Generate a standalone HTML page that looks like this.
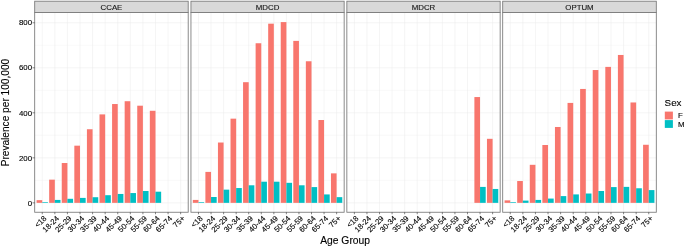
<!DOCTYPE html>
<html lang="en"><head><meta charset="utf-8"><title>Prevalence per 100,000 by Age Group and Sex</title>
<style>html,body{margin:0;padding:0;background:#fff}svg{display:block;filter:blur(0.35px)}text{stroke:#000;stroke-width:0.12px}</style></head>
<body>
<svg width="685" height="247" viewBox="0 0 685 247" font-family="Liberation Sans, Arial, Helvetica, sans-serif">
<rect width="685" height="247" fill="#fff"/>
<g><line x1="34.70" x2="188.20" y1="180.34" y2="180.34" stroke="#EBEBEB" stroke-width="0.3"/><line x1="34.70" x2="188.20" y1="135.32" y2="135.32" stroke="#EBEBEB" stroke-width="0.3"/><line x1="34.70" x2="188.20" y1="90.30" y2="90.30" stroke="#EBEBEB" stroke-width="0.3"/><line x1="34.70" x2="188.20" y1="45.28" y2="45.28" stroke="#EBEBEB" stroke-width="0.3"/><line x1="34.70" x2="188.20" y1="202.85" y2="202.85" stroke="#EBEBEB" stroke-width="0.5"/><line x1="34.70" x2="188.20" y1="157.83" y2="157.83" stroke="#EBEBEB" stroke-width="0.5"/><line x1="34.70" x2="188.20" y1="112.81" y2="112.81" stroke="#EBEBEB" stroke-width="0.5"/><line x1="34.70" x2="188.20" y1="67.79" y2="67.79" stroke="#EBEBEB" stroke-width="0.5"/><line x1="34.70" x2="188.20" y1="22.77" y2="22.77" stroke="#EBEBEB" stroke-width="0.5"/><line x1="42.25" x2="42.25" y1="12.55" y2="212.25" stroke="#EBEBEB" stroke-width="0.5"/><line x1="54.83" x2="54.83" y1="12.55" y2="212.25" stroke="#EBEBEB" stroke-width="0.5"/><line x1="67.41" x2="67.41" y1="12.55" y2="212.25" stroke="#EBEBEB" stroke-width="0.5"/><line x1="80.00" x2="80.00" y1="12.55" y2="212.25" stroke="#EBEBEB" stroke-width="0.5"/><line x1="92.58" x2="92.58" y1="12.55" y2="212.25" stroke="#EBEBEB" stroke-width="0.5"/><line x1="105.16" x2="105.16" y1="12.55" y2="212.25" stroke="#EBEBEB" stroke-width="0.5"/><line x1="117.74" x2="117.74" y1="12.55" y2="212.25" stroke="#EBEBEB" stroke-width="0.5"/><line x1="130.32" x2="130.32" y1="12.55" y2="212.25" stroke="#EBEBEB" stroke-width="0.5"/><line x1="142.90" x2="142.90" y1="12.55" y2="212.25" stroke="#EBEBEB" stroke-width="0.5"/><line x1="155.49" x2="155.49" y1="12.55" y2="212.25" stroke="#EBEBEB" stroke-width="0.5"/><line x1="168.07" x2="168.07" y1="12.55" y2="212.25" stroke="#EBEBEB" stroke-width="0.5"/><line x1="180.65" x2="180.65" y1="12.55" y2="212.25" stroke="#EBEBEB" stroke-width="0.5"/></g>
<g><rect x="36.59" y="200.15" width="5.66" height="2.70" fill="#F8766D"/><rect x="42.25" y="202.17" width="5.66" height="0.68" fill="#00BFC4"/><rect x="49.17" y="179.66" width="5.66" height="23.19" fill="#F8766D"/><rect x="54.83" y="199.92" width="5.66" height="2.93" fill="#00BFC4"/><rect x="61.75" y="163.01" width="5.66" height="39.84" fill="#F8766D"/><rect x="67.41" y="198.80" width="5.66" height="4.05" fill="#00BFC4"/><rect x="74.33" y="145.67" width="5.66" height="57.18" fill="#F8766D"/><rect x="80.00" y="197.90" width="5.66" height="4.95" fill="#00BFC4"/><rect x="86.92" y="129.24" width="5.66" height="73.61" fill="#F8766D"/><rect x="92.58" y="197.22" width="5.66" height="5.63" fill="#00BFC4"/><rect x="99.50" y="114.39" width="5.66" height="88.46" fill="#F8766D"/><rect x="105.16" y="195.20" width="5.66" height="7.65" fill="#00BFC4"/><rect x="112.08" y="104.03" width="5.66" height="98.82" fill="#F8766D"/><rect x="117.74" y="193.96" width="5.66" height="8.89" fill="#00BFC4"/><rect x="124.66" y="101.22" width="5.66" height="101.63" fill="#F8766D"/><rect x="130.32" y="193.06" width="5.66" height="9.79" fill="#00BFC4"/><rect x="137.24" y="105.70" width="5.66" height="97.15" fill="#F8766D"/><rect x="142.90" y="191.01" width="5.66" height="11.84" fill="#00BFC4"/><rect x="149.83" y="110.78" width="5.66" height="92.07" fill="#F8766D"/><rect x="155.49" y="191.69" width="5.66" height="11.16" fill="#00BFC4"/></g>
<rect x="34.70" y="12.55" width="153.50" height="199.70" fill="none" stroke="#777" stroke-width="0.85"/>
<rect x="34.70" y="1.2" width="153.50" height="11.35" fill="#D9D9D9" stroke="#777" stroke-width="0.85"/>
<text x="111.45" y="9.9" font-size="7.85" text-anchor="middle" fill="#1a1a1a">CCAE</text>
<g><line x1="42.25" x2="42.25" y1="212.25" y2="214.25" stroke="#333333" stroke-width="0.6"/><text transform="translate(46.95,218.85) rotate(-45)" font-size="7.7" text-anchor="end" fill="#000">&lt;18</text><line x1="54.83" x2="54.83" y1="212.25" y2="214.25" stroke="#333333" stroke-width="0.6"/><text transform="translate(59.53,218.85) rotate(-45)" font-size="7.7" text-anchor="end" fill="#000">18-24</text><line x1="67.41" x2="67.41" y1="212.25" y2="214.25" stroke="#333333" stroke-width="0.6"/><text transform="translate(72.11,218.85) rotate(-45)" font-size="7.7" text-anchor="end" fill="#000">25-29</text><line x1="80.00" x2="80.00" y1="212.25" y2="214.25" stroke="#333333" stroke-width="0.6"/><text transform="translate(84.70,218.85) rotate(-45)" font-size="7.7" text-anchor="end" fill="#000">30-34</text><line x1="92.58" x2="92.58" y1="212.25" y2="214.25" stroke="#333333" stroke-width="0.6"/><text transform="translate(97.28,218.85) rotate(-45)" font-size="7.7" text-anchor="end" fill="#000">35-39</text><line x1="105.16" x2="105.16" y1="212.25" y2="214.25" stroke="#333333" stroke-width="0.6"/><text transform="translate(109.86,218.85) rotate(-45)" font-size="7.7" text-anchor="end" fill="#000">40-44</text><line x1="117.74" x2="117.74" y1="212.25" y2="214.25" stroke="#333333" stroke-width="0.6"/><text transform="translate(122.44,218.85) rotate(-45)" font-size="7.7" text-anchor="end" fill="#000">45-49</text><line x1="130.32" x2="130.32" y1="212.25" y2="214.25" stroke="#333333" stroke-width="0.6"/><text transform="translate(135.02,218.85) rotate(-45)" font-size="7.7" text-anchor="end" fill="#000">50-54</text><line x1="142.90" x2="142.90" y1="212.25" y2="214.25" stroke="#333333" stroke-width="0.6"/><text transform="translate(147.60,218.85) rotate(-45)" font-size="7.7" text-anchor="end" fill="#000">55-59</text><line x1="155.49" x2="155.49" y1="212.25" y2="214.25" stroke="#333333" stroke-width="0.6"/><text transform="translate(160.19,218.85) rotate(-45)" font-size="7.7" text-anchor="end" fill="#000">60-64</text><line x1="168.07" x2="168.07" y1="212.25" y2="214.25" stroke="#333333" stroke-width="0.6"/><text transform="translate(172.77,218.85) rotate(-45)" font-size="7.7" text-anchor="end" fill="#000">65-74</text><line x1="180.65" x2="180.65" y1="212.25" y2="214.25" stroke="#333333" stroke-width="0.6"/><text transform="translate(185.35,218.85) rotate(-45)" font-size="7.7" text-anchor="end" fill="#000">75+</text></g>
<g><line x1="190.95" x2="344.15" y1="180.34" y2="180.34" stroke="#EBEBEB" stroke-width="0.3"/><line x1="190.95" x2="344.15" y1="135.32" y2="135.32" stroke="#EBEBEB" stroke-width="0.3"/><line x1="190.95" x2="344.15" y1="90.30" y2="90.30" stroke="#EBEBEB" stroke-width="0.3"/><line x1="190.95" x2="344.15" y1="45.28" y2="45.28" stroke="#EBEBEB" stroke-width="0.3"/><line x1="190.95" x2="344.15" y1="202.85" y2="202.85" stroke="#EBEBEB" stroke-width="0.5"/><line x1="190.95" x2="344.15" y1="157.83" y2="157.83" stroke="#EBEBEB" stroke-width="0.5"/><line x1="190.95" x2="344.15" y1="112.81" y2="112.81" stroke="#EBEBEB" stroke-width="0.5"/><line x1="190.95" x2="344.15" y1="67.79" y2="67.79" stroke="#EBEBEB" stroke-width="0.5"/><line x1="190.95" x2="344.15" y1="22.77" y2="22.77" stroke="#EBEBEB" stroke-width="0.5"/><line x1="198.48" x2="198.48" y1="12.55" y2="212.25" stroke="#EBEBEB" stroke-width="0.5"/><line x1="211.04" x2="211.04" y1="12.55" y2="212.25" stroke="#EBEBEB" stroke-width="0.5"/><line x1="223.60" x2="223.60" y1="12.55" y2="212.25" stroke="#EBEBEB" stroke-width="0.5"/><line x1="236.16" x2="236.16" y1="12.55" y2="212.25" stroke="#EBEBEB" stroke-width="0.5"/><line x1="248.71" x2="248.71" y1="12.55" y2="212.25" stroke="#EBEBEB" stroke-width="0.5"/><line x1="261.27" x2="261.27" y1="12.55" y2="212.25" stroke="#EBEBEB" stroke-width="0.5"/><line x1="273.83" x2="273.83" y1="12.55" y2="212.25" stroke="#EBEBEB" stroke-width="0.5"/><line x1="286.39" x2="286.39" y1="12.55" y2="212.25" stroke="#EBEBEB" stroke-width="0.5"/><line x1="298.94" x2="298.94" y1="12.55" y2="212.25" stroke="#EBEBEB" stroke-width="0.5"/><line x1="311.50" x2="311.50" y1="12.55" y2="212.25" stroke="#EBEBEB" stroke-width="0.5"/><line x1="324.06" x2="324.06" y1="12.55" y2="212.25" stroke="#EBEBEB" stroke-width="0.5"/><line x1="336.62" x2="336.62" y1="12.55" y2="212.25" stroke="#EBEBEB" stroke-width="0.5"/></g>
<g><rect x="192.83" y="199.92" width="5.65" height="2.93" fill="#F8766D"/><rect x="198.48" y="202.17" width="5.65" height="0.68" fill="#00BFC4"/><rect x="205.39" y="171.90" width="5.65" height="30.95" fill="#F8766D"/><rect x="211.04" y="197.00" width="5.65" height="5.85" fill="#00BFC4"/><rect x="217.95" y="142.52" width="5.65" height="60.33" fill="#F8766D"/><rect x="223.60" y="189.64" width="5.65" height="13.21" fill="#00BFC4"/><rect x="230.51" y="118.66" width="5.65" height="84.19" fill="#F8766D"/><rect x="236.16" y="188.04" width="5.65" height="14.81" fill="#00BFC4"/><rect x="243.06" y="82.20" width="5.65" height="120.65" fill="#F8766D"/><rect x="248.71" y="185.29" width="5.65" height="17.56" fill="#00BFC4"/><rect x="255.62" y="43.25" width="5.65" height="159.60" fill="#F8766D"/><rect x="261.27" y="181.69" width="5.65" height="21.16" fill="#00BFC4"/><rect x="268.18" y="23.67" width="5.65" height="179.18" fill="#F8766D"/><rect x="273.83" y="181.69" width="5.65" height="21.16" fill="#00BFC4"/><rect x="280.74" y="22.09" width="5.65" height="180.76" fill="#F8766D"/><rect x="286.39" y="182.82" width="5.65" height="20.03" fill="#00BFC4"/><rect x="293.29" y="40.89" width="5.65" height="161.96" fill="#F8766D"/><rect x="298.94" y="185.29" width="5.65" height="17.56" fill="#00BFC4"/><rect x="305.85" y="61.26" width="5.65" height="141.59" fill="#F8766D"/><rect x="311.50" y="187.09" width="5.65" height="15.76" fill="#00BFC4"/><rect x="318.41" y="120.01" width="5.65" height="82.84" fill="#F8766D"/><rect x="324.06" y="194.43" width="5.65" height="8.42" fill="#00BFC4"/><rect x="330.96" y="173.36" width="5.65" height="29.49" fill="#F8766D"/><rect x="336.62" y="197.15" width="5.65" height="5.70" fill="#00BFC4"/></g>
<rect x="190.95" y="12.55" width="153.20" height="199.70" fill="none" stroke="#777" stroke-width="0.85"/>
<rect x="190.95" y="1.2" width="153.20" height="11.35" fill="#D9D9D9" stroke="#777" stroke-width="0.85"/>
<text x="267.55" y="9.9" font-size="7.85" text-anchor="middle" fill="#1a1a1a">MDCD</text>
<g><line x1="198.48" x2="198.48" y1="212.25" y2="214.25" stroke="#333333" stroke-width="0.6"/><text transform="translate(203.18,218.85) rotate(-45)" font-size="7.7" text-anchor="end" fill="#000">&lt;18</text><line x1="211.04" x2="211.04" y1="212.25" y2="214.25" stroke="#333333" stroke-width="0.6"/><text transform="translate(215.74,218.85) rotate(-45)" font-size="7.7" text-anchor="end" fill="#000">18-24</text><line x1="223.60" x2="223.60" y1="212.25" y2="214.25" stroke="#333333" stroke-width="0.6"/><text transform="translate(228.30,218.85) rotate(-45)" font-size="7.7" text-anchor="end" fill="#000">25-29</text><line x1="236.16" x2="236.16" y1="212.25" y2="214.25" stroke="#333333" stroke-width="0.6"/><text transform="translate(240.86,218.85) rotate(-45)" font-size="7.7" text-anchor="end" fill="#000">30-34</text><line x1="248.71" x2="248.71" y1="212.25" y2="214.25" stroke="#333333" stroke-width="0.6"/><text transform="translate(253.41,218.85) rotate(-45)" font-size="7.7" text-anchor="end" fill="#000">35-39</text><line x1="261.27" x2="261.27" y1="212.25" y2="214.25" stroke="#333333" stroke-width="0.6"/><text transform="translate(265.97,218.85) rotate(-45)" font-size="7.7" text-anchor="end" fill="#000">40-44</text><line x1="273.83" x2="273.83" y1="212.25" y2="214.25" stroke="#333333" stroke-width="0.6"/><text transform="translate(278.53,218.85) rotate(-45)" font-size="7.7" text-anchor="end" fill="#000">45-49</text><line x1="286.39" x2="286.39" y1="212.25" y2="214.25" stroke="#333333" stroke-width="0.6"/><text transform="translate(291.09,218.85) rotate(-45)" font-size="7.7" text-anchor="end" fill="#000">50-54</text><line x1="298.94" x2="298.94" y1="212.25" y2="214.25" stroke="#333333" stroke-width="0.6"/><text transform="translate(303.64,218.85) rotate(-45)" font-size="7.7" text-anchor="end" fill="#000">55-59</text><line x1="311.50" x2="311.50" y1="212.25" y2="214.25" stroke="#333333" stroke-width="0.6"/><text transform="translate(316.20,218.85) rotate(-45)" font-size="7.7" text-anchor="end" fill="#000">60-64</text><line x1="324.06" x2="324.06" y1="212.25" y2="214.25" stroke="#333333" stroke-width="0.6"/><text transform="translate(328.76,218.85) rotate(-45)" font-size="7.7" text-anchor="end" fill="#000">65-74</text><line x1="336.62" x2="336.62" y1="212.25" y2="214.25" stroke="#333333" stroke-width="0.6"/><text transform="translate(341.32,218.85) rotate(-45)" font-size="7.7" text-anchor="end" fill="#000">75+</text></g>
<g><line x1="346.85" x2="500.15" y1="180.34" y2="180.34" stroke="#EBEBEB" stroke-width="0.3"/><line x1="346.85" x2="500.15" y1="135.32" y2="135.32" stroke="#EBEBEB" stroke-width="0.3"/><line x1="346.85" x2="500.15" y1="90.30" y2="90.30" stroke="#EBEBEB" stroke-width="0.3"/><line x1="346.85" x2="500.15" y1="45.28" y2="45.28" stroke="#EBEBEB" stroke-width="0.3"/><line x1="346.85" x2="500.15" y1="202.85" y2="202.85" stroke="#EBEBEB" stroke-width="0.5"/><line x1="346.85" x2="500.15" y1="157.83" y2="157.83" stroke="#EBEBEB" stroke-width="0.5"/><line x1="346.85" x2="500.15" y1="112.81" y2="112.81" stroke="#EBEBEB" stroke-width="0.5"/><line x1="346.85" x2="500.15" y1="67.79" y2="67.79" stroke="#EBEBEB" stroke-width="0.5"/><line x1="346.85" x2="500.15" y1="22.77" y2="22.77" stroke="#EBEBEB" stroke-width="0.5"/><line x1="354.39" x2="354.39" y1="12.55" y2="212.25" stroke="#EBEBEB" stroke-width="0.5"/><line x1="366.95" x2="366.95" y1="12.55" y2="212.25" stroke="#EBEBEB" stroke-width="0.5"/><line x1="379.52" x2="379.52" y1="12.55" y2="212.25" stroke="#EBEBEB" stroke-width="0.5"/><line x1="392.09" x2="392.09" y1="12.55" y2="212.25" stroke="#EBEBEB" stroke-width="0.5"/><line x1="404.65" x2="404.65" y1="12.55" y2="212.25" stroke="#EBEBEB" stroke-width="0.5"/><line x1="417.22" x2="417.22" y1="12.55" y2="212.25" stroke="#EBEBEB" stroke-width="0.5"/><line x1="429.78" x2="429.78" y1="12.55" y2="212.25" stroke="#EBEBEB" stroke-width="0.5"/><line x1="442.35" x2="442.35" y1="12.55" y2="212.25" stroke="#EBEBEB" stroke-width="0.5"/><line x1="454.91" x2="454.91" y1="12.55" y2="212.25" stroke="#EBEBEB" stroke-width="0.5"/><line x1="467.48" x2="467.48" y1="12.55" y2="212.25" stroke="#EBEBEB" stroke-width="0.5"/><line x1="480.05" x2="480.05" y1="12.55" y2="212.25" stroke="#EBEBEB" stroke-width="0.5"/><line x1="492.61" x2="492.61" y1="12.55" y2="212.25" stroke="#EBEBEB" stroke-width="0.5"/></g>
<g><rect x="474.39" y="97.05" width="5.65" height="105.80" fill="#F8766D"/><rect x="480.05" y="186.91" width="5.65" height="15.94" fill="#00BFC4"/><rect x="486.96" y="138.81" width="5.65" height="64.04" fill="#F8766D"/><rect x="492.61" y="188.96" width="5.65" height="13.89" fill="#00BFC4"/></g>
<rect x="346.85" y="12.55" width="153.30" height="199.70" fill="none" stroke="#777" stroke-width="0.85"/>
<rect x="346.85" y="1.2" width="153.30" height="11.35" fill="#D9D9D9" stroke="#777" stroke-width="0.85"/>
<text x="423.50" y="9.9" font-size="7.85" text-anchor="middle" fill="#1a1a1a">MDCR</text>
<g><line x1="354.39" x2="354.39" y1="212.25" y2="214.25" stroke="#333333" stroke-width="0.6"/><text transform="translate(359.09,218.85) rotate(-45)" font-size="7.7" text-anchor="end" fill="#000">&lt;18</text><line x1="366.95" x2="366.95" y1="212.25" y2="214.25" stroke="#333333" stroke-width="0.6"/><text transform="translate(371.65,218.85) rotate(-45)" font-size="7.7" text-anchor="end" fill="#000">18-24</text><line x1="379.52" x2="379.52" y1="212.25" y2="214.25" stroke="#333333" stroke-width="0.6"/><text transform="translate(384.22,218.85) rotate(-45)" font-size="7.7" text-anchor="end" fill="#000">25-29</text><line x1="392.09" x2="392.09" y1="212.25" y2="214.25" stroke="#333333" stroke-width="0.6"/><text transform="translate(396.79,218.85) rotate(-45)" font-size="7.7" text-anchor="end" fill="#000">30-34</text><line x1="404.65" x2="404.65" y1="212.25" y2="214.25" stroke="#333333" stroke-width="0.6"/><text transform="translate(409.35,218.85) rotate(-45)" font-size="7.7" text-anchor="end" fill="#000">35-39</text><line x1="417.22" x2="417.22" y1="212.25" y2="214.25" stroke="#333333" stroke-width="0.6"/><text transform="translate(421.92,218.85) rotate(-45)" font-size="7.7" text-anchor="end" fill="#000">40-44</text><line x1="429.78" x2="429.78" y1="212.25" y2="214.25" stroke="#333333" stroke-width="0.6"/><text transform="translate(434.48,218.85) rotate(-45)" font-size="7.7" text-anchor="end" fill="#000">45-49</text><line x1="442.35" x2="442.35" y1="212.25" y2="214.25" stroke="#333333" stroke-width="0.6"/><text transform="translate(447.05,218.85) rotate(-45)" font-size="7.7" text-anchor="end" fill="#000">50-54</text><line x1="454.91" x2="454.91" y1="212.25" y2="214.25" stroke="#333333" stroke-width="0.6"/><text transform="translate(459.61,218.85) rotate(-45)" font-size="7.7" text-anchor="end" fill="#000">55-59</text><line x1="467.48" x2="467.48" y1="212.25" y2="214.25" stroke="#333333" stroke-width="0.6"/><text transform="translate(472.18,218.85) rotate(-45)" font-size="7.7" text-anchor="end" fill="#000">60-64</text><line x1="480.05" x2="480.05" y1="212.25" y2="214.25" stroke="#333333" stroke-width="0.6"/><text transform="translate(484.75,218.85) rotate(-45)" font-size="7.7" text-anchor="end" fill="#000">65-74</text><line x1="492.61" x2="492.61" y1="212.25" y2="214.25" stroke="#333333" stroke-width="0.6"/><text transform="translate(497.31,218.85) rotate(-45)" font-size="7.7" text-anchor="end" fill="#000">75+</text></g>
<g><line x1="502.70" x2="656.30" y1="180.34" y2="180.34" stroke="#EBEBEB" stroke-width="0.3"/><line x1="502.70" x2="656.30" y1="135.32" y2="135.32" stroke="#EBEBEB" stroke-width="0.3"/><line x1="502.70" x2="656.30" y1="90.30" y2="90.30" stroke="#EBEBEB" stroke-width="0.3"/><line x1="502.70" x2="656.30" y1="45.28" y2="45.28" stroke="#EBEBEB" stroke-width="0.3"/><line x1="502.70" x2="656.30" y1="202.85" y2="202.85" stroke="#EBEBEB" stroke-width="0.5"/><line x1="502.70" x2="656.30" y1="157.83" y2="157.83" stroke="#EBEBEB" stroke-width="0.5"/><line x1="502.70" x2="656.30" y1="112.81" y2="112.81" stroke="#EBEBEB" stroke-width="0.5"/><line x1="502.70" x2="656.30" y1="67.79" y2="67.79" stroke="#EBEBEB" stroke-width="0.5"/><line x1="502.70" x2="656.30" y1="22.77" y2="22.77" stroke="#EBEBEB" stroke-width="0.5"/><line x1="510.25" x2="510.25" y1="12.55" y2="212.25" stroke="#EBEBEB" stroke-width="0.5"/><line x1="522.84" x2="522.84" y1="12.55" y2="212.25" stroke="#EBEBEB" stroke-width="0.5"/><line x1="535.43" x2="535.43" y1="12.55" y2="212.25" stroke="#EBEBEB" stroke-width="0.5"/><line x1="548.02" x2="548.02" y1="12.55" y2="212.25" stroke="#EBEBEB" stroke-width="0.5"/><line x1="560.61" x2="560.61" y1="12.55" y2="212.25" stroke="#EBEBEB" stroke-width="0.5"/><line x1="573.20" x2="573.20" y1="12.55" y2="212.25" stroke="#EBEBEB" stroke-width="0.5"/><line x1="585.80" x2="585.80" y1="12.55" y2="212.25" stroke="#EBEBEB" stroke-width="0.5"/><line x1="598.39" x2="598.39" y1="12.55" y2="212.25" stroke="#EBEBEB" stroke-width="0.5"/><line x1="610.98" x2="610.98" y1="12.55" y2="212.25" stroke="#EBEBEB" stroke-width="0.5"/><line x1="623.57" x2="623.57" y1="12.55" y2="212.25" stroke="#EBEBEB" stroke-width="0.5"/><line x1="636.16" x2="636.16" y1="12.55" y2="212.25" stroke="#EBEBEB" stroke-width="0.5"/><line x1="648.75" x2="648.75" y1="12.55" y2="212.25" stroke="#EBEBEB" stroke-width="0.5"/></g>
<g><rect x="504.59" y="200.37" width="5.67" height="2.48" fill="#F8766D"/><rect x="510.25" y="202.17" width="5.67" height="0.68" fill="#00BFC4"/><rect x="517.18" y="181.02" width="5.67" height="21.83" fill="#F8766D"/><rect x="522.84" y="200.60" width="5.67" height="2.25" fill="#00BFC4"/><rect x="529.77" y="164.81" width="5.67" height="38.04" fill="#F8766D"/><rect x="535.43" y="199.92" width="5.67" height="2.93" fill="#00BFC4"/><rect x="542.36" y="145.00" width="5.67" height="57.85" fill="#F8766D"/><rect x="548.02" y="198.57" width="5.67" height="4.28" fill="#00BFC4"/><rect x="554.95" y="126.99" width="5.67" height="75.86" fill="#F8766D"/><rect x="560.61" y="196.10" width="5.67" height="6.75" fill="#00BFC4"/><rect x="567.54" y="102.91" width="5.67" height="99.94" fill="#F8766D"/><rect x="573.20" y="194.41" width="5.67" height="8.44" fill="#00BFC4"/><rect x="580.13" y="88.95" width="5.67" height="113.90" fill="#F8766D"/><rect x="585.80" y="193.51" width="5.67" height="9.34" fill="#00BFC4"/><rect x="592.72" y="70.04" width="5.67" height="132.81" fill="#F8766D"/><rect x="598.39" y="191.01" width="5.67" height="11.84" fill="#00BFC4"/><rect x="605.31" y="66.89" width="5.67" height="135.96" fill="#F8766D"/><rect x="610.98" y="187.09" width="5.67" height="15.76" fill="#00BFC4"/><rect x="617.90" y="54.96" width="5.67" height="147.89" fill="#F8766D"/><rect x="623.57" y="186.87" width="5.67" height="15.98" fill="#00BFC4"/><rect x="630.49" y="102.46" width="5.67" height="100.39" fill="#F8766D"/><rect x="636.16" y="188.26" width="5.67" height="14.59" fill="#00BFC4"/><rect x="643.08" y="144.77" width="5.67" height="58.08" fill="#F8766D"/><rect x="648.75" y="190.09" width="5.67" height="12.76" fill="#00BFC4"/></g>
<rect x="502.70" y="12.55" width="153.60" height="199.70" fill="none" stroke="#777" stroke-width="0.85"/>
<rect x="502.70" y="1.2" width="153.60" height="11.35" fill="#D9D9D9" stroke="#777" stroke-width="0.85"/>
<text x="579.50" y="9.9" font-size="7.85" text-anchor="middle" fill="#1a1a1a">OPTUM</text>
<g><line x1="510.25" x2="510.25" y1="212.25" y2="214.25" stroke="#333333" stroke-width="0.6"/><text transform="translate(514.95,218.85) rotate(-45)" font-size="7.7" text-anchor="end" fill="#000">&lt;18</text><line x1="522.84" x2="522.84" y1="212.25" y2="214.25" stroke="#333333" stroke-width="0.6"/><text transform="translate(527.54,218.85) rotate(-45)" font-size="7.7" text-anchor="end" fill="#000">18-24</text><line x1="535.43" x2="535.43" y1="212.25" y2="214.25" stroke="#333333" stroke-width="0.6"/><text transform="translate(540.13,218.85) rotate(-45)" font-size="7.7" text-anchor="end" fill="#000">25-29</text><line x1="548.02" x2="548.02" y1="212.25" y2="214.25" stroke="#333333" stroke-width="0.6"/><text transform="translate(552.72,218.85) rotate(-45)" font-size="7.7" text-anchor="end" fill="#000">30-34</text><line x1="560.61" x2="560.61" y1="212.25" y2="214.25" stroke="#333333" stroke-width="0.6"/><text transform="translate(565.31,218.85) rotate(-45)" font-size="7.7" text-anchor="end" fill="#000">35-39</text><line x1="573.20" x2="573.20" y1="212.25" y2="214.25" stroke="#333333" stroke-width="0.6"/><text transform="translate(577.90,218.85) rotate(-45)" font-size="7.7" text-anchor="end" fill="#000">40-44</text><line x1="585.80" x2="585.80" y1="212.25" y2="214.25" stroke="#333333" stroke-width="0.6"/><text transform="translate(590.50,218.85) rotate(-45)" font-size="7.7" text-anchor="end" fill="#000">45-49</text><line x1="598.39" x2="598.39" y1="212.25" y2="214.25" stroke="#333333" stroke-width="0.6"/><text transform="translate(603.09,218.85) rotate(-45)" font-size="7.7" text-anchor="end" fill="#000">50-54</text><line x1="610.98" x2="610.98" y1="212.25" y2="214.25" stroke="#333333" stroke-width="0.6"/><text transform="translate(615.68,218.85) rotate(-45)" font-size="7.7" text-anchor="end" fill="#000">55-59</text><line x1="623.57" x2="623.57" y1="212.25" y2="214.25" stroke="#333333" stroke-width="0.6"/><text transform="translate(628.27,218.85) rotate(-45)" font-size="7.7" text-anchor="end" fill="#000">60-64</text><line x1="636.16" x2="636.16" y1="212.25" y2="214.25" stroke="#333333" stroke-width="0.6"/><text transform="translate(640.86,218.85) rotate(-45)" font-size="7.7" text-anchor="end" fill="#000">65-74</text><line x1="648.75" x2="648.75" y1="212.25" y2="214.25" stroke="#333333" stroke-width="0.6"/><text transform="translate(653.45,218.85) rotate(-45)" font-size="7.7" text-anchor="end" fill="#000">75+</text></g>
<line x1="32.50" x2="34.70" y1="202.85" y2="202.85" stroke="#333333" stroke-width="0.6"/>
<text x="32.10" y="205.85" font-size="7.85" text-anchor="end" fill="#000">0</text>
<line x1="32.50" x2="34.70" y1="157.83" y2="157.83" stroke="#333333" stroke-width="0.6"/>
<text x="32.10" y="160.70" font-size="7.85" text-anchor="end" fill="#000">200</text>
<line x1="32.50" x2="34.70" y1="112.81" y2="112.81" stroke="#333333" stroke-width="0.6"/>
<text x="32.10" y="115.56" font-size="7.85" text-anchor="end" fill="#000">400</text>
<line x1="32.50" x2="34.70" y1="67.79" y2="67.79" stroke="#333333" stroke-width="0.6"/>
<text x="32.10" y="70.41" font-size="7.85" text-anchor="end" fill="#000">600</text>
<line x1="32.50" x2="34.70" y1="22.77" y2="22.77" stroke="#333333" stroke-width="0.6"/>
<text x="32.10" y="25.27" font-size="7.85" text-anchor="end" fill="#000">800</text>
<text transform="translate(9.2,112.60) rotate(-90)" font-size="10.15" text-anchor="middle" fill="#000">Prevalence per 100,000</text>
<text x="345.10" y="243.5" font-size="10.3" text-anchor="middle" fill="#000">Age Group</text>
<text x="664.6" y="105.7" font-size="9.8" fill="#000">Sex</text>
<rect x="664.8" y="111.6" width="8.1" height="7.8" fill="#F8766D"/>
<rect x="664.8" y="120.1" width="8.1" height="7.8" fill="#00BFC4"/>
<text x="678" y="118.4" font-size="7.85" fill="#000">F</text>
<text x="678" y="126.9" font-size="7.85" fill="#000">M</text>
</svg>
</body></html>
